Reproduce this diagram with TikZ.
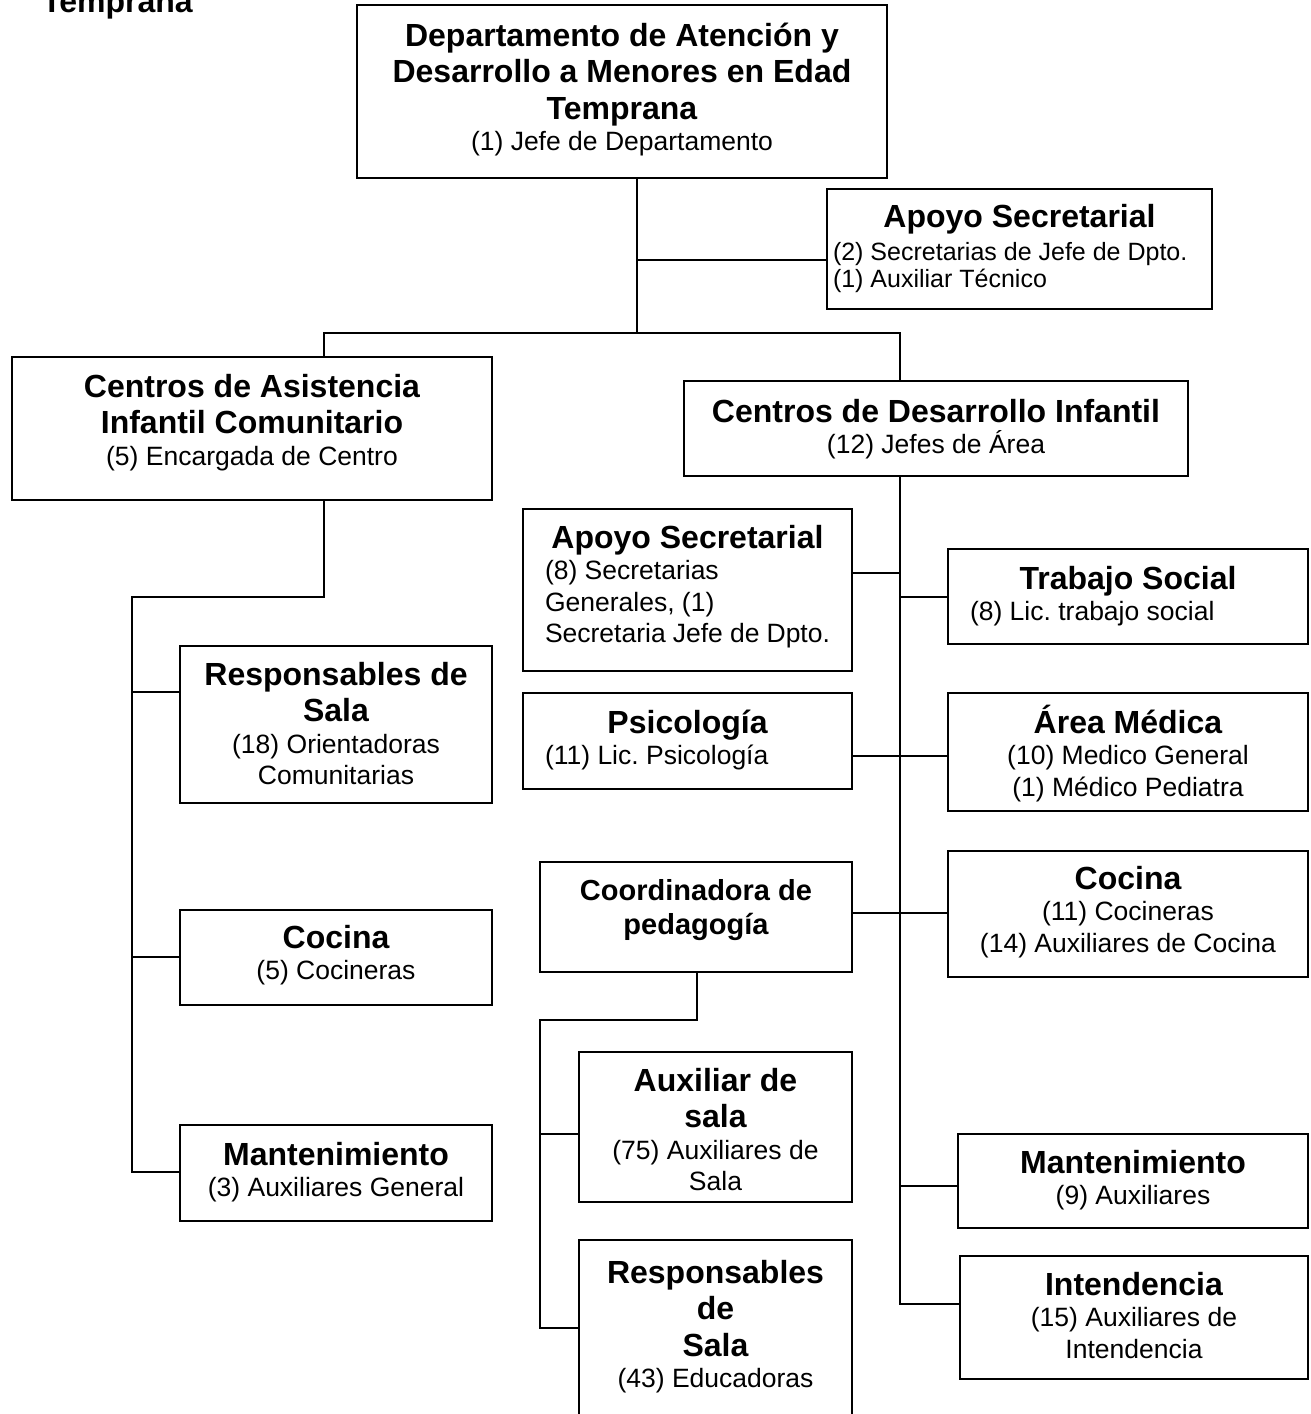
\documentclass[tikz,border=0pt]{standalone}
\usepackage{fontspec}
\setmainfont{Liberation Sans}
\usetikzlibrary{fit}

% fonts: box titles and staff lines (word space tied to the font size)
\newcommand\wsp{\spaceskip=0.278em plus 0.1em minus 0.05em\relax\xspaceskip=0.278em plus 0.1em minus 0.05em\relax}
\newcommand\tfont{\fontsize{32}{36.5}\selectfont\bfseries\wsp}
\newcommand\sfont{\fontsize{26.5}{31.5}\selectfont\wsp}
\newcommand\ttl[1]{{\tfont\centering\rule{0pt}{30pt}#1\par}}
\newcommand\subc[1]{{\sfont\centering #1\par}}
\newcommand\subl[1]{{\sfont\raggedright #1\par}}

\tikzset{
  x=1pt, y=-1pt,
  unit/.style={draw=black, line width=1.8pt, inner sep=0pt},
  txt/.style={anchor=north, inner sep=0pt, execute at begin node={\setlength\parindent{0pt}}},
  conn/.style={draw=black, line width=1.8pt},
}

\begin{document}
\begin{tikzpicture}
\useasboundingbox (0,0) rectangle (1311,1414);
\fill[white] (0,0) rectangle (1311,1414);

% leftover heading from the previous page
\node[anchor=base west, inner sep=0pt] (head) at (42,12) {\tfont Temprana};

% ---- boxes ----
\node[unit, fit={(357,5) (887,178)}] (A) {};
\node[unit, fit={(827,189) (1212,309)}] (S1) {};
\node[unit, fit={(12,357) (492,500)}] (L) {};
\node[unit, fit={(684,381) (1188,476)}] (R) {};
\node[unit, fit={(523,509) (852,671)}] (S2) {};
\node[unit, fit={(948,549) (1308,644)}] (TS) {};
\node[unit, fit={(523,693) (852,789)}] (PS) {};
\node[unit, fit={(948,693) (1308,811)}] (AM) {};
\node[unit, fit={(540,862) (852,972)}] (CP) {};
\node[unit, fit={(948,851) (1308,977)}] (CR) {};
\node[unit, fit={(579,1052) (852,1202)}] (AS) {};
\node[unit, fit={(579,1240) (852,1440)}] (RS2) {};
\node[unit, fit={(958,1134) (1308,1228)}] (MR) {};
\node[unit, fit={(960,1256) (1308,1379)}] (IN) {};
\node[unit, fit={(180,646) (492,803)}] (RS1) {};
\node[unit, fit={(180,910) (492,1005)}] (CL) {};
\node[unit, fit={(180,1125) (492,1221)}] (ML) {};

% ---- box texts ----
\node[txt, text width=520pt] (tA) at (622,16)
  {\ttl{Departamento de Atención y\\Desarrollo a Menores en Edad\\Temprana}\subc{(1) Jefe de Departamento}};
\node[txt, text width=373pt] (tS1) at (1019.5,197)
  {\ttl{Apoyo Secretarial}\vspace{7pt}{\fontsize{25}{26.5}\selectfont\wsp\raggedright (2) Secretarias de Jefe de Dpto.\\(1) Auxiliar Técnico\par}};
\node[txt, text width=470pt] (tL) at (252,367)
  {\ttl{Centros de Asistencia\\Infantil Comunitario}\subc{(5) Encargada de Centro}};
\node[txt, text width=490pt] (tR) at (936,392)
  {\ttl{Centros de Desarrollo Infantil}\subc{(12) Jefes de Área}};
\node[txt, text width=285pt] (tS2) at (687.5,518)
  {\ttl{Apoyo Secretarial}\subl{(8) Secretarias\\Generales, (1)\\Secretaria Jefe de Dpto.}};
\node[txt, text width=316pt] (tTS) at (1128,559)
  {\ttl{Trabajo Social}\subl{(8) Lic. trabajo social}};
\node[txt, text width=285pt] (tPS) at (687.5,703)
  {\ttl{Psicología}\subl{(11) Lic. Psicología}};
\node[txt, text width=340pt] (tAM) at (1128,703)
  {\ttl{Área Médica}\subc{(10) Medico General\\(1) Médico Pediatra}};
\node[txt, text width=300pt] (tCP) at (696,870)
  {{\fontsize{29}{34}\selectfont\bfseries\wsp\centering\rule{0pt}{30pt}Coordinadora de\\pedagogía\par}};
\node[txt, text width=340pt] (tCR) at (1128,859)
  {\ttl{Cocina}\subc{(11) Cocineras\\(14) Auxiliares de Cocina}};
\node[txt, text width=260pt] (tAS) at (715.5,1061)
  {\ttl{Auxiliar de\\sala}\subc{(75) Auxiliares de\\Sala}};
\node[txt, text width=260pt] (tRS2) at (715.5,1253)
  {\ttl{Responsables\\de\\Sala}\subc{(43) Educadoras}};
\node[txt, text width=330pt] (tMR) at (1133,1143)
  {\ttl{Mantenimiento}\subc{(9) Auxiliares}};
\node[txt, text width=330pt] (tIN) at (1134,1265)
  {\ttl{Intendencia}\subc{(15) Auxiliares de\\Intendencia}};
\node[txt, text width=300pt] (tRS1) at (336,655)
  {\ttl{Responsables de\\Sala}\subc{(18) Orientadoras\\Comunitarias}};
\node[txt, text width=300pt] (tCL) at (336,918)
  {\ttl{Cocina}\subc{(5) Cocineras}};
\node[txt, text width=300pt] (tML) at (336,1135)
  {\ttl{Mantenimiento}\subc{(3) Auxiliares General}};

% ---- connector routing points ----
\coordinate (t1) at (637,333);
\coordinate (lx) at (324,333);
\coordinate (rx) at (900,333);
\coordinate (lb) at (324,597);
\coordinate (lc) at (132,597);
\coordinate (cp1) at (697,1020);
\coordinate (cp2) at (540,1020);
\coordinate (y260) at (0,260);
\coordinate (y692) at (0,692);
\coordinate (y957) at (0,957);
\coordinate (y1172) at (0,1172);
\coordinate (y573) at (0,573);
\coordinate (y597) at (0,597);
\coordinate (y756) at (0,756);
\coordinate (y913) at (0,913);
\coordinate (y1186) at (0,1186);
\coordinate (y1304) at (0,1304);
\coordinate (y1134) at (0,1134);
\coordinate (y1328) at (0,1328);

% ---- connectors ----
\draw[conn] (A.south -| t1) -- (t1);
\draw[conn] (t1 |- y260) -- (S1.west |- y260);
\draw[conn] (L.north -| lx) -- (lx) -- (rx) -- (R.north -| rx);

\draw[conn] (L.south -| lb) -- (lb) -- (lc) -- (lc |- y1172) -- (ML.west |- y1172);
\draw[conn] (lc |- y692) -- (RS1.west |- y692);
\draw[conn] (lc |- y957) -- (CL.west |- y957);

\draw[conn] (R.south -| rx) -- (rx |- y1304) -- (IN.west |- y1304);
\draw[conn] (S2.east |- y573) -- (rx |- y573);
\draw[conn] (rx |- y597) -- (TS.west |- y597);
\draw[conn] (PS.east |- y756) -- (AM.west |- y756);
\draw[conn] (CP.east |- y913) -- (CR.west |- y913);
\draw[conn] (rx |- y1186) -- (MR.west |- y1186);

\draw[conn] (CP.south -| cp1) -- (cp1) -- (cp2) -- (cp2 |- y1328) -- (RS2.west |- y1328);
\draw[conn] (cp2 |- y1134) -- (AS.west |- y1134);
\end{tikzpicture}
\end{document}
